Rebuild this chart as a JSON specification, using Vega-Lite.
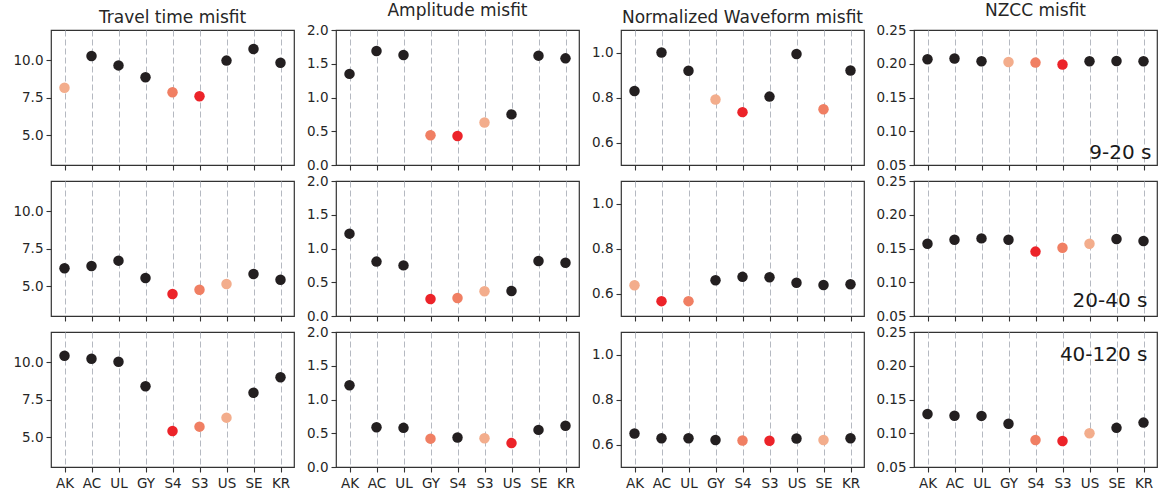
{
  "$schema": "https://vega.github.io/schema/vega-lite/v6.json",
  "padding": {"left": 12, "right": 0, "top": 1, "bottom": 2},
  "background": "white",
  "spacing": 0,
  "datasets": {
    "misfit": [
      {"period": "9-20 s", "metric": "Travel time misfit", "station": "AK", "misfit": 8.15, "rank": 3},
      {"period": "9-20 s", "metric": "Travel time misfit", "station": "AC", "misfit": 10.27, "rank": 0},
      {"period": "9-20 s", "metric": "Travel time misfit", "station": "UL", "misfit": 9.64, "rank": 0},
      {"period": "9-20 s", "metric": "Travel time misfit", "station": "GY", "misfit": 8.85, "rank": 0},
      {"period": "9-20 s", "metric": "Travel time misfit", "station": "S4", "misfit": 7.85, "rank": 2},
      {"period": "9-20 s", "metric": "Travel time misfit", "station": "S3", "misfit": 7.58, "rank": 1},
      {"period": "9-20 s", "metric": "Travel time misfit", "station": "US", "misfit": 9.96, "rank": 0},
      {"period": "9-20 s", "metric": "Travel time misfit", "station": "SE", "misfit": 10.73, "rank": 0},
      {"period": "9-20 s", "metric": "Travel time misfit", "station": "KR", "misfit": 9.82, "rank": 0},
      {"period": "9-20 s", "metric": "Amplitude misfit", "station": "AK", "misfit": 1.35, "rank": 0},
      {"period": "9-20 s", "metric": "Amplitude misfit", "station": "AC", "misfit": 1.69, "rank": 0},
      {"period": "9-20 s", "metric": "Amplitude misfit", "station": "UL", "misfit": 1.63, "rank": 0},
      {"period": "9-20 s", "metric": "Amplitude misfit", "station": "GY", "misfit": 0.44, "rank": 2},
      {"period": "9-20 s", "metric": "Amplitude misfit", "station": "S4", "misfit": 0.43, "rank": 1},
      {"period": "9-20 s", "metric": "Amplitude misfit", "station": "S3", "misfit": 0.63, "rank": 3},
      {"period": "9-20 s", "metric": "Amplitude misfit", "station": "US", "misfit": 0.75, "rank": 0},
      {"period": "9-20 s", "metric": "Amplitude misfit", "station": "SE", "misfit": 1.62, "rank": 0},
      {"period": "9-20 s", "metric": "Amplitude misfit", "station": "KR", "misfit": 1.58, "rank": 0},
      {"period": "9-20 s", "metric": "Normalized Waveform misfit", "station": "AK", "misfit": 0.829, "rank": 0},
      {"period": "9-20 s", "metric": "Normalized Waveform misfit", "station": "AC", "misfit": 1.0, "rank": 0},
      {"period": "9-20 s", "metric": "Normalized Waveform misfit", "station": "UL", "misfit": 0.919, "rank": 0},
      {"period": "9-20 s", "metric": "Normalized Waveform misfit", "station": "GY", "misfit": 0.791, "rank": 3},
      {"period": "9-20 s", "metric": "Normalized Waveform misfit", "station": "S4", "misfit": 0.735, "rank": 1},
      {"period": "9-20 s", "metric": "Normalized Waveform misfit", "station": "S3", "misfit": 0.804, "rank": 0},
      {"period": "9-20 s", "metric": "Normalized Waveform misfit", "station": "US", "misfit": 0.993, "rank": 0},
      {"period": "9-20 s", "metric": "Normalized Waveform misfit", "station": "SE", "misfit": 0.748, "rank": 2},
      {"period": "9-20 s", "metric": "Normalized Waveform misfit", "station": "KR", "misfit": 0.92, "rank": 0},
      {"period": "9-20 s", "metric": "NZCC misfit", "station": "AK", "misfit": 0.2066, "rank": 0},
      {"period": "9-20 s", "metric": "NZCC misfit", "station": "AC", "misfit": 0.2078, "rank": 0},
      {"period": "9-20 s", "metric": "NZCC misfit", "station": "UL", "misfit": 0.2036, "rank": 0},
      {"period": "9-20 s", "metric": "NZCC misfit", "station": "GY", "misfit": 0.2026, "rank": 3},
      {"period": "9-20 s", "metric": "NZCC misfit", "station": "S4", "misfit": 0.2017, "rank": 2},
      {"period": "9-20 s", "metric": "NZCC misfit", "station": "S3", "misfit": 0.1988, "rank": 1},
      {"period": "9-20 s", "metric": "NZCC misfit", "station": "US", "misfit": 0.2036, "rank": 0},
      {"period": "9-20 s", "metric": "NZCC misfit", "station": "SE", "misfit": 0.204, "rank": 0},
      {"period": "9-20 s", "metric": "NZCC misfit", "station": "KR", "misfit": 0.2038, "rank": 0},
      {"period": "20-40 s", "metric": "Travel time misfit", "station": "AK", "misfit": 6.18, "rank": 0},
      {"period": "20-40 s", "metric": "Travel time misfit", "station": "AC", "misfit": 6.33, "rank": 0},
      {"period": "20-40 s", "metric": "Travel time misfit", "station": "UL", "misfit": 6.69, "rank": 0},
      {"period": "20-40 s", "metric": "Travel time misfit", "station": "GY", "misfit": 5.53, "rank": 0},
      {"period": "20-40 s", "metric": "Travel time misfit", "station": "S4", "misfit": 4.47, "rank": 1},
      {"period": "20-40 s", "metric": "Travel time misfit", "station": "S3", "misfit": 4.75, "rank": 2},
      {"period": "20-40 s", "metric": "Travel time misfit", "station": "US", "misfit": 5.13, "rank": 3},
      {"period": "20-40 s", "metric": "Travel time misfit", "station": "SE", "misfit": 5.8, "rank": 0},
      {"period": "20-40 s", "metric": "Travel time misfit", "station": "KR", "misfit": 5.42, "rank": 0},
      {"period": "20-40 s", "metric": "Amplitude misfit", "station": "AK", "misfit": 1.22, "rank": 0},
      {"period": "20-40 s", "metric": "Amplitude misfit", "station": "AC", "misfit": 0.806, "rank": 0},
      {"period": "20-40 s", "metric": "Amplitude misfit", "station": "UL", "misfit": 0.75, "rank": 0},
      {"period": "20-40 s", "metric": "Amplitude misfit", "station": "GY", "misfit": 0.252, "rank": 1},
      {"period": "20-40 s", "metric": "Amplitude misfit", "station": "S4", "misfit": 0.267, "rank": 2},
      {"period": "20-40 s", "metric": "Amplitude misfit", "station": "S3", "misfit": 0.366, "rank": 3},
      {"period": "20-40 s", "metric": "Amplitude misfit", "station": "US", "misfit": 0.37, "rank": 0},
      {"period": "20-40 s", "metric": "Amplitude misfit", "station": "SE", "misfit": 0.816, "rank": 0},
      {"period": "20-40 s", "metric": "Amplitude misfit", "station": "KR", "misfit": 0.79, "rank": 0},
      {"period": "20-40 s", "metric": "Normalized Waveform misfit", "station": "AK", "misfit": 0.637, "rank": 3},
      {"period": "20-40 s", "metric": "Normalized Waveform misfit", "station": "AC", "misfit": 0.566, "rank": 1},
      {"period": "20-40 s", "metric": "Normalized Waveform misfit", "station": "UL", "misfit": 0.566, "rank": 2},
      {"period": "20-40 s", "metric": "Normalized Waveform misfit", "station": "GY", "misfit": 0.659, "rank": 0},
      {"period": "20-40 s", "metric": "Normalized Waveform misfit", "station": "S4", "misfit": 0.674, "rank": 0},
      {"period": "20-40 s", "metric": "Normalized Waveform misfit", "station": "S3", "misfit": 0.672, "rank": 0},
      {"period": "20-40 s", "metric": "Normalized Waveform misfit", "station": "US", "misfit": 0.648, "rank": 0},
      {"period": "20-40 s", "metric": "Normalized Waveform misfit", "station": "SE", "misfit": 0.638, "rank": 0},
      {"period": "20-40 s", "metric": "Normalized Waveform misfit", "station": "KR", "misfit": 0.641, "rank": 0},
      {"period": "20-40 s", "metric": "NZCC misfit", "station": "AK", "misfit": 0.157, "rank": 0},
      {"period": "20-40 s", "metric": "NZCC misfit", "station": "AC", "misfit": 0.163, "rank": 0},
      {"period": "20-40 s", "metric": "NZCC misfit", "station": "UL", "misfit": 0.165, "rank": 0},
      {"period": "20-40 s", "metric": "NZCC misfit", "station": "GY", "misfit": 0.163, "rank": 0},
      {"period": "20-40 s", "metric": "NZCC misfit", "station": "S4", "misfit": 0.1454, "rank": 1},
      {"period": "20-40 s", "metric": "NZCC misfit", "station": "S3", "misfit": 0.151, "rank": 2},
      {"period": "20-40 s", "metric": "NZCC misfit", "station": "US", "misfit": 0.157, "rank": 3},
      {"period": "20-40 s", "metric": "NZCC misfit", "station": "SE", "misfit": 0.164, "rank": 0},
      {"period": "20-40 s", "metric": "NZCC misfit", "station": "KR", "misfit": 0.161, "rank": 0},
      {"period": "40-120 s", "metric": "Travel time misfit", "station": "AK", "misfit": 10.42, "rank": 0},
      {"period": "40-120 s", "metric": "Travel time misfit", "station": "AC", "misfit": 10.22, "rank": 0},
      {"period": "40-120 s", "metric": "Travel time misfit", "station": "UL", "misfit": 10.02, "rank": 0},
      {"period": "40-120 s", "metric": "Travel time misfit", "station": "GY", "misfit": 8.38, "rank": 0},
      {"period": "40-120 s", "metric": "Travel time misfit", "station": "S4", "misfit": 5.4, "rank": 1},
      {"period": "40-120 s", "metric": "Travel time misfit", "station": "S3", "misfit": 5.69, "rank": 2},
      {"period": "40-120 s", "metric": "Travel time misfit", "station": "US", "misfit": 6.29, "rank": 3},
      {"period": "40-120 s", "metric": "Travel time misfit", "station": "SE", "misfit": 7.95, "rank": 0},
      {"period": "40-120 s", "metric": "Travel time misfit", "station": "KR", "misfit": 8.98, "rank": 0},
      {"period": "40-120 s", "metric": "Amplitude misfit", "station": "AK", "misfit": 1.21, "rank": 0},
      {"period": "40-120 s", "metric": "Amplitude misfit", "station": "AC", "misfit": 0.59, "rank": 0},
      {"period": "40-120 s", "metric": "Amplitude misfit", "station": "UL", "misfit": 0.58, "rank": 0},
      {"period": "40-120 s", "metric": "Amplitude misfit", "station": "GY", "misfit": 0.42, "rank": 2},
      {"period": "40-120 s", "metric": "Amplitude misfit", "station": "S4", "misfit": 0.437, "rank": 0},
      {"period": "40-120 s", "metric": "Amplitude misfit", "station": "S3", "misfit": 0.427, "rank": 3},
      {"period": "40-120 s", "metric": "Amplitude misfit", "station": "US", "misfit": 0.354, "rank": 1},
      {"period": "40-120 s", "metric": "Amplitude misfit", "station": "SE", "misfit": 0.55, "rank": 0},
      {"period": "40-120 s", "metric": "Amplitude misfit", "station": "KR", "misfit": 0.61, "rank": 0},
      {"period": "40-120 s", "metric": "Normalized Waveform misfit", "station": "AK", "misfit": 0.649, "rank": 0},
      {"period": "40-120 s", "metric": "Normalized Waveform misfit", "station": "AC", "misfit": 0.628, "rank": 0},
      {"period": "40-120 s", "metric": "Normalized Waveform misfit", "station": "UL", "misfit": 0.628, "rank": 0},
      {"period": "40-120 s", "metric": "Normalized Waveform misfit", "station": "GY", "misfit": 0.62, "rank": 0},
      {"period": "40-120 s", "metric": "Normalized Waveform misfit", "station": "S4", "misfit": 0.618, "rank": 2},
      {"period": "40-120 s", "metric": "Normalized Waveform misfit", "station": "S3", "misfit": 0.617, "rank": 1},
      {"period": "40-120 s", "metric": "Normalized Waveform misfit", "station": "US", "misfit": 0.627, "rank": 0},
      {"period": "40-120 s", "metric": "Normalized Waveform misfit", "station": "SE", "misfit": 0.62, "rank": 3},
      {"period": "40-120 s", "metric": "Normalized Waveform misfit", "station": "KR", "misfit": 0.628, "rank": 0},
      {"period": "40-120 s", "metric": "NZCC misfit", "station": "AK", "misfit": 0.1286, "rank": 0},
      {"period": "40-120 s", "metric": "NZCC misfit", "station": "AC", "misfit": 0.126, "rank": 0},
      {"period": "40-120 s", "metric": "NZCC misfit", "station": "UL", "misfit": 0.1257, "rank": 0},
      {"period": "40-120 s", "metric": "NZCC misfit", "station": "GY", "misfit": 0.114, "rank": 0},
      {"period": "40-120 s", "metric": "NZCC misfit", "station": "S4", "misfit": 0.09, "rank": 2},
      {"period": "40-120 s", "metric": "NZCC misfit", "station": "S3", "misfit": 0.0884, "rank": 1},
      {"period": "40-120 s", "metric": "NZCC misfit", "station": "US", "misfit": 0.1, "rank": 3},
      {"period": "40-120 s", "metric": "NZCC misfit", "station": "SE", "misfit": 0.108, "rank": 0},
      {"period": "40-120 s", "metric": "NZCC misfit", "station": "KR", "misfit": 0.1158, "rank": 0}
    ]
  },
  "vconcat": [
    {
      "spacing": 10,
      "hconcat": [
        {
          "width": 243, "height": 135, "title": "Travel time misfit",
          "data": {"name": "misfit"},
          "transform": [{"filter": "datum.period === '9-20 s' && datum.metric === 'Travel time misfit'"}],
          "mark": {"type": "circle", "size": 110, "opacity": 1},
          "encoding": {
            "x": {"field": "station", "type": "nominal", "scale": {"type": "point", "domain": ["AK", "AC", "UL", "GY", "S4", "S3", "US", "SE", "KR"], "padding": 0.5}, "axis": {"title": null, "labels": false}},
            "y": {"field": "misfit", "type": "quantitative", "scale": {"domain": [3, 12], "nice": false, "zero": false}, "axis": {"title": null, "values": [5, 7.5, 10], "format": ".1f"}},
            "color": {"field": "rank", "type": "nominal", "scale": {"domain": [0, 1, 2, 3], "range": ["#231f20", "#ec2329", "#f07f63", "#f3ad8c"]}, "legend": null}
          }
        },
        {
          "width": 243, "height": 135, "title": "Amplitude misfit",
          "data": {"name": "misfit"},
          "transform": [{"filter": "datum.period === '9-20 s' && datum.metric === 'Amplitude misfit'"}],
          "mark": {"type": "circle", "size": 110, "opacity": 1},
          "encoding": {
            "x": {"field": "station", "type": "nominal", "scale": {"type": "point", "domain": ["AK", "AC", "UL", "GY", "S4", "S3", "US", "SE", "KR"], "padding": 0.5}, "axis": {"title": null, "labels": false}},
            "y": {"field": "misfit", "type": "quantitative", "scale": {"domain": [0, 2], "nice": false, "zero": false}, "axis": {"title": null, "values": [0, 0.5, 1, 1.5, 2], "format": ".1f"}},
            "color": {"field": "rank", "type": "nominal", "scale": {"domain": [0, 1, 2, 3], "range": ["#231f20", "#ec2329", "#f07f63", "#f3ad8c"]}, "legend": null}
          }
        },
        {
          "width": 243, "height": 135, "title": "Normalized Waveform misfit",
          "data": {"name": "misfit"},
          "transform": [{"filter": "datum.period === '9-20 s' && datum.metric === 'Normalized Waveform misfit'"}],
          "mark": {"type": "circle", "size": 110, "opacity": 1},
          "encoding": {
            "x": {"field": "station", "type": "nominal", "scale": {"type": "point", "domain": ["AK", "AC", "UL", "GY", "S4", "S3", "US", "SE", "KR"], "padding": 0.5}, "axis": {"title": null, "labels": false}},
            "y": {"field": "misfit", "type": "quantitative", "scale": {"domain": [0.5, 1.1], "nice": false, "zero": false}, "axis": {"title": null, "values": [0.6, 0.8, 1.0], "format": ".1f"}},
            "color": {"field": "rank", "type": "nominal", "scale": {"domain": [0, 1, 2, 3], "range": ["#231f20", "#ec2329", "#f07f63", "#f3ad8c"]}, "legend": null}
          }
        },
        {
          "width": 243, "height": 135, "title": "NZCC misfit",
          "layer": [
            {
              "data": {"name": "misfit"},
              "transform": [{"filter": "datum.period === '9-20 s' && datum.metric === 'NZCC misfit'"}],
              "mark": {"type": "circle", "size": 110, "opacity": 1},
              "encoding": {
                "x": {"field": "station", "type": "nominal", "scale": {"type": "point", "domain": ["AK", "AC", "UL", "GY", "S4", "S3", "US", "SE", "KR"], "padding": 0.5}, "axis": {"title": null, "labels": false}},
                "y": {"field": "misfit", "type": "quantitative", "scale": {"domain": [0.05, 0.25], "nice": false, "zero": false}, "axis": {"title": null, "values": [0.05, 0.1, 0.15, 0.2, 0.25], "format": ".2f"}},
                "color": {"field": "rank", "type": "nominal", "scale": {"domain": [0, 1, 2, 3], "range": ["#231f20", "#ec2329", "#f07f63", "#f3ad8c"]}, "legend": null}
              }
            },
            {
              "data": {"values": [{"band": "9-20 s"}]},
              "mark": {"type": "text", "fontSize": 20, "align": "right", "baseline": "alphabetic", "dx": 8, "color": "#1a1a1a", "font": "DejaVu Sans"},
              "encoding": {
                "x": {"datum": "KR", "axis": {"title": null, "labels": false}},
                "y": {"datum": 0.059, "axis": {"title": null, "values": [0.05, 0.1, 0.15, 0.2, 0.25], "format": ".2f"}},
                "text": {"field": "band"}
              }
            }
          ]
        }
      ]
    },
    {
      "spacing": 10,
      "hconcat": [
        {
          "width": 243, "height": 135,
          "data": {"name": "misfit"},
          "transform": [{"filter": "datum.period === '20-40 s' && datum.metric === 'Travel time misfit'"}],
          "mark": {"type": "circle", "size": 110, "opacity": 1},
          "encoding": {
            "x": {"field": "station", "type": "nominal", "scale": {"type": "point", "domain": ["AK", "AC", "UL", "GY", "S4", "S3", "US", "SE", "KR"], "padding": 0.5}, "axis": {"title": null, "labels": false}},
            "y": {"field": "misfit", "type": "quantitative", "scale": {"domain": [3, 12], "nice": false, "zero": false}, "axis": {"title": null, "values": [5, 7.5, 10], "format": ".1f"}},
            "color": {"field": "rank", "type": "nominal", "scale": {"domain": [0, 1, 2, 3], "range": ["#231f20", "#ec2329", "#f07f63", "#f3ad8c"]}, "legend": null}
          }
        },
        {
          "width": 243, "height": 135,
          "data": {"name": "misfit"},
          "transform": [{"filter": "datum.period === '20-40 s' && datum.metric === 'Amplitude misfit'"}],
          "mark": {"type": "circle", "size": 110, "opacity": 1},
          "encoding": {
            "x": {"field": "station", "type": "nominal", "scale": {"type": "point", "domain": ["AK", "AC", "UL", "GY", "S4", "S3", "US", "SE", "KR"], "padding": 0.5}, "axis": {"title": null, "labels": false}},
            "y": {"field": "misfit", "type": "quantitative", "scale": {"domain": [0, 2], "nice": false, "zero": false}, "axis": {"title": null, "values": [0, 0.5, 1, 1.5, 2], "format": ".1f"}},
            "color": {"field": "rank", "type": "nominal", "scale": {"domain": [0, 1, 2, 3], "range": ["#231f20", "#ec2329", "#f07f63", "#f3ad8c"]}, "legend": null}
          }
        },
        {
          "width": 243, "height": 135,
          "data": {"name": "misfit"},
          "transform": [{"filter": "datum.period === '20-40 s' && datum.metric === 'Normalized Waveform misfit'"}],
          "mark": {"type": "circle", "size": 110, "opacity": 1},
          "encoding": {
            "x": {"field": "station", "type": "nominal", "scale": {"type": "point", "domain": ["AK", "AC", "UL", "GY", "S4", "S3", "US", "SE", "KR"], "padding": 0.5}, "axis": {"title": null, "labels": false}},
            "y": {"field": "misfit", "type": "quantitative", "scale": {"domain": [0.5, 1.1], "nice": false, "zero": false}, "axis": {"title": null, "values": [0.6, 0.8, 1.0], "format": ".1f"}},
            "color": {"field": "rank", "type": "nominal", "scale": {"domain": [0, 1, 2, 3], "range": ["#231f20", "#ec2329", "#f07f63", "#f3ad8c"]}, "legend": null}
          }
        },
        {
          "width": 243, "height": 135,
          "layer": [
            {
              "data": {"name": "misfit"},
              "transform": [{"filter": "datum.period === '20-40 s' && datum.metric === 'NZCC misfit'"}],
              "mark": {"type": "circle", "size": 110, "opacity": 1},
              "encoding": {
                "x": {"field": "station", "type": "nominal", "scale": {"type": "point", "domain": ["AK", "AC", "UL", "GY", "S4", "S3", "US", "SE", "KR"], "padding": 0.5}, "axis": {"title": null, "labels": false}},
                "y": {"field": "misfit", "type": "quantitative", "scale": {"domain": [0.05, 0.25], "nice": false, "zero": false}, "axis": {"title": null, "values": [0.05, 0.1, 0.15, 0.2, 0.25], "format": ".2f"}},
                "color": {"field": "rank", "type": "nominal", "scale": {"domain": [0, 1, 2, 3], "range": ["#231f20", "#ec2329", "#f07f63", "#f3ad8c"]}, "legend": null}
              }
            },
            {
              "data": {"values": [{"band": "20-40 s"}]},
              "mark": {"type": "text", "fontSize": 20, "align": "right", "baseline": "alphabetic", "dx": 4, "color": "#1a1a1a", "font": "DejaVu Sans"},
              "encoding": {
                "x": {"datum": "KR", "axis": {"title": null, "labels": false}},
                "y": {"datum": 0.063, "axis": {"title": null, "values": [0.05, 0.1, 0.15, 0.2, 0.25], "format": ".2f"}},
                "text": {"field": "band"}
              }
            }
          ]
        }
      ]
    },
    {
      "spacing": 10,
      "hconcat": [
        {
          "width": 243, "height": 135,
          "data": {"name": "misfit"},
          "transform": [{"filter": "datum.period === '40-120 s' && datum.metric === 'Travel time misfit'"}],
          "mark": {"type": "circle", "size": 110, "opacity": 1},
          "encoding": {
            "x": {"field": "station", "type": "nominal", "scale": {"type": "point", "domain": ["AK", "AC", "UL", "GY", "S4", "S3", "US", "SE", "KR"], "padding": 0.5}, "axis": {"title": null}},
            "y": {"field": "misfit", "type": "quantitative", "scale": {"domain": [3, 12], "nice": false, "zero": false}, "axis": {"title": null, "values": [5, 7.5, 10], "format": ".1f"}},
            "color": {"field": "rank", "type": "nominal", "scale": {"domain": [0, 1, 2, 3], "range": ["#231f20", "#ec2329", "#f07f63", "#f3ad8c"]}, "legend": null}
          }
        },
        {
          "width": 243, "height": 135,
          "data": {"name": "misfit"},
          "transform": [{"filter": "datum.period === '40-120 s' && datum.metric === 'Amplitude misfit'"}],
          "mark": {"type": "circle", "size": 110, "opacity": 1},
          "encoding": {
            "x": {"field": "station", "type": "nominal", "scale": {"type": "point", "domain": ["AK", "AC", "UL", "GY", "S4", "S3", "US", "SE", "KR"], "padding": 0.5}, "axis": {"title": null}},
            "y": {"field": "misfit", "type": "quantitative", "scale": {"domain": [0, 2], "nice": false, "zero": false}, "axis": {"title": null, "values": [0, 0.5, 1, 1.5, 2], "format": ".1f"}},
            "color": {"field": "rank", "type": "nominal", "scale": {"domain": [0, 1, 2, 3], "range": ["#231f20", "#ec2329", "#f07f63", "#f3ad8c"]}, "legend": null}
          }
        },
        {
          "width": 243, "height": 135,
          "data": {"name": "misfit"},
          "transform": [{"filter": "datum.period === '40-120 s' && datum.metric === 'Normalized Waveform misfit'"}],
          "mark": {"type": "circle", "size": 110, "opacity": 1},
          "encoding": {
            "x": {"field": "station", "type": "nominal", "scale": {"type": "point", "domain": ["AK", "AC", "UL", "GY", "S4", "S3", "US", "SE", "KR"], "padding": 0.5}, "axis": {"title": null}},
            "y": {"field": "misfit", "type": "quantitative", "scale": {"domain": [0.5, 1.1], "nice": false, "zero": false}, "axis": {"title": null, "values": [0.6, 0.8, 1.0], "format": ".1f"}},
            "color": {"field": "rank", "type": "nominal", "scale": {"domain": [0, 1, 2, 3], "range": ["#231f20", "#ec2329", "#f07f63", "#f3ad8c"]}, "legend": null}
          }
        },
        {
          "width": 243, "height": 135,
          "layer": [
            {
              "data": {"name": "misfit"},
              "transform": [{"filter": "datum.period === '40-120 s' && datum.metric === 'NZCC misfit'"}],
              "mark": {"type": "circle", "size": 110, "opacity": 1},
              "encoding": {
                "x": {"field": "station", "type": "nominal", "scale": {"type": "point", "domain": ["AK", "AC", "UL", "GY", "S4", "S3", "US", "SE", "KR"], "padding": 0.5}, "axis": {"title": null}},
                "y": {"field": "misfit", "type": "quantitative", "scale": {"domain": [0.05, 0.25], "nice": false, "zero": false}, "axis": {"title": null, "values": [0.05, 0.1, 0.15, 0.2, 0.25], "format": ".2f"}},
                "color": {"field": "rank", "type": "nominal", "scale": {"domain": [0, 1, 2, 3], "range": ["#231f20", "#ec2329", "#f07f63", "#f3ad8c"]}, "legend": null}
              }
            },
            {
              "data": {"values": [{"band": "40-120 s"}]},
              "mark": {"type": "text", "fontSize": 20, "align": "right", "baseline": "alphabetic", "dx": 4, "color": "#1a1a1a", "font": "DejaVu Sans"},
              "encoding": {
                "x": {"datum": "KR", "axis": {"title": null}},
                "y": {"datum": 0.207, "axis": {"title": null, "values": [0.05, 0.1, 0.15, 0.2, 0.25], "format": ".2f"}},
                "text": {"field": "band"}
              }
            }
          ]
        }
      ]
    }
  ],
  "config": {
    "font": "DejaVu Sans",
    "view": {"stroke": "#333333", "strokeWidth": 1.2},
    "axis": {
      "domain": false,
      "ticks": true,
      "tickColor": "#333333",
      "tickSize": 5,
      "tickWidth": 1.1,
      "labelFont": "DejaVu Sans",
      "labelFontSize": 13.5,
      "labelColor": "#262626",
      "labelPadding": 3,
      "labelOverlap": false,
      "minExtent": 0
    },
    "axisX": {"grid": true, "gridDash": [6, 3], "gridColor": "#b5b9c1", "gridWidth": 1, "labelAngle": 0, "labelPadding": 4, "minExtent": 0},
    "axisY": {"grid": false},
    "title": {"font": "DejaVu Sans", "fontSize": 17, "fontWeight": "normal", "color": "#262626", "offset": 3}
  }
}
